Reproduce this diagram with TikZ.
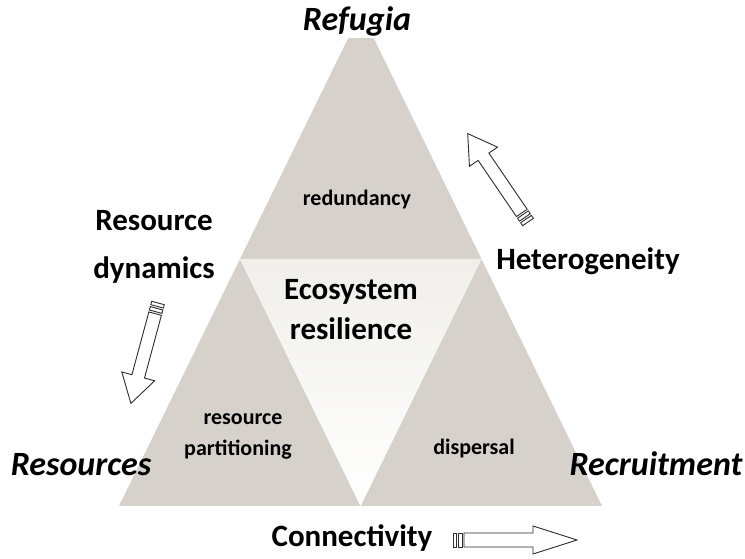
\documentclass[tikz,border=0pt]{standalone}
\usepackage{fontspec}
\setmainfont{Carlito}
\definecolor{tri}{RGB}{214,210,203}
\definecolor{innertop}{RGB}{240,239,234}
\definecolor{arrowc}{RGB}{45,45,45}
\newcommand{\stripearrow}[7]{%
  \begin{scope}[shift={(#1,#2)},rotate=#3]
    \draw[arrowline] (0,-#7) rectangle (3.5,#7);
    \draw[arrowline] (5.5,-#7) rectangle (9,#7);
    \draw[arrowline] (11,-#7) -- ({#4-#5},-#7) -- ({#4-#5},-#6) -- (#4,0) -- ({#4-#5},#6) -- ({#4-#5},#7) -- (11,#7) -- cycle;
  \end{scope}}
\begin{document}
\begin{tikzpicture}[x=1pt,y=1pt,
  arrowline/.style={draw=arrowc,line width=0.9pt,fill=white,line join=miter},
  big/.style={font=\fontsize{31}{36}\selectfont\bfseries},
  corner/.style={font=\fontsize{34}{38}\selectfont\bfseries\itshape},
  small/.style={font=\fontsize{22}{26}\selectfont\bfseries}]
\useasboundingbox (0,0) rectangle (745,559);
\fill[white] (0,0) rectangle (745,559);
% triangles
\coordinate (A) at (361,547);
\coordinate (BL) at (119,53);
\coordinate (BR) at (602,53);
\coordinate (ML) at (240,300);
\coordinate (MR) at (481.5,300);
\coordinate (MB) at (360.5,53);
\fill[tri] (A) -- (MR) -- (ML) -- cycle;
\fill[tri] (ML) -- (MB) -- (BL) -- cycle;
\fill[tri] (MR) -- (BR) -- (MB) -- cycle;
\shade[top color=innertop,bottom color=white] (ML) -- (MR) -- (MB) -- cycle;
% labels
\node[corner,fill=white,inner sep=1pt,anchor=base] (refugia) at (357,528) {Refugia};
\node[corner,anchor=base] (resources) at (81,83) {Resources};
\node[corner,anchor=base] (recruitment) at (656,83) {Recruitment};
\node[big,anchor=base] (res1) at (154,328) {Resource};
\node[big,anchor=base] (res2) at (154,280) {dynamics};
\node[big,anchor=base] (het) at (588,289) {Heterogeneity};
\node[big,anchor=base] (eco1) at (351,259) {Ecosystem};
\node[big,anchor=base] (eco2) at (351,219) {resilience};
\node[big,anchor=base] (conn) at (352,12) {Connectivity};
\node[small,anchor=base] (red) at (357,353) {redundancy};
\node[small,anchor=base] (rp1) at (243,134) {resource};
\node[small,anchor=base] (rp2) at (238,103) {partitioning};
\node[small,anchor=base] (disp) at (474,104) {dispersal};
% block arrows
\stripearrow{528}{337}{124.3}{107}{28}{17}{6.5}
\stripearrow{158}{256}{254.9}{104}{28}{17}{6.5}
\stripearrow{453}{19}{0}{124}{44}{14}{7}
\end{tikzpicture}
\end{document}
